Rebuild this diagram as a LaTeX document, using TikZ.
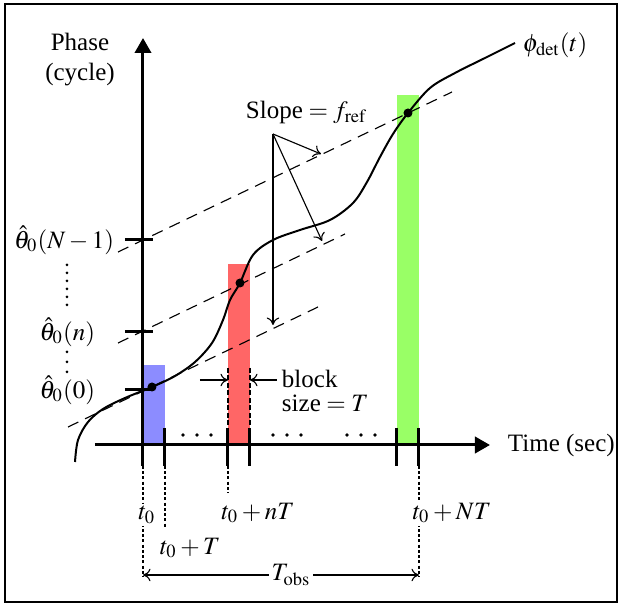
\documentclass[tikz,border=0pt]{standalone}
\usepackage{mathptmx}
\usepackage[no-math]{fontspec}
\setmainfont{Liberation Serif}
\usetikzlibrary{arrows.meta}
\definecolor{blockblue}{RGB}{140,140,255}
\definecolor{blockred}{RGB}{255,102,102}
\definecolor{blockgreen}{RGB}{153,255,102}
\begin{document}
\begin{tikzpicture}[x=0.4pt,y=-0.4pt,every node/.style={font=\fontsize{10}{12}\selectfont,inner sep=1pt},>={To[length=3pt,width=5pt]},
  axis/.style={line width=1.2pt,-{Triangle[length=6pt,width=6.5pt]}},
  axtick/.style={line width=1.2pt},
  slopeline/.style={line width=0.45pt,dash pattern=on 4.6pt off 3pt},
  guide/.style={line width=0.45pt,dash pattern=on 1.2pt off 0.9pt},
  thin arrow/.style={line width=0.45pt,->}]
\useasboundingbox (0,0) rectangle (622,606);
\draw[line width=0.8pt] (5,4) rectangle (617,602);
% blocks
\fill[blockblue] (143,365) rectangle (165,445);
\fill[blockred] (228,264) rectangle (250,445);
\fill[blockgreen] (397,95) rectangle (419,445);
% guides below the time axis
\draw[guide] (143,466) -- (143,577);
\draw[guide] (165,466) -- (165,527);
\draw[guide] (228,466) -- (228,493);
\draw[guide] (419,466) -- (419,577);
% axes
\coordinate (ybot) at (143,466);
\coordinate (ytop) at (143,38);
\coordinate (xleft) at (95,445);
\coordinate (xright) at (490,445);
\draw[axis] (ybot) -- (ytop);
\draw[axis] (xleft) -- (xright);
\foreach \x in {165,228,250,397,419}
  \draw[axtick] (\x,428) -- (\x,466);
\foreach \y in {240,332,390}
  \draw[axtick] (125,\y) -- (153,\y);
% lines of slope f_ref
\draw[slopeline] (118,252) -- (452,92);
\draw[slopeline] (118,343) -- (345,234);
\draw[slopeline] (68,427) -- (318,307);
% detected phase
\draw[line width=0.8pt] plot[smooth,tension=0.55] coordinates {(75,462) (78,440) (88,422) (103,409) (125,398) (152,387) (175,376) (195,362) (212,343) (223,320) (230,300) (240,283) (253,255) (273,240) (300,230) (330,220) (353,203) (367,182) (380,157) (393,134) (408,113) (430,88) (455,73) (485,58) (515,43)};
\fill (152,387) circle (1.8pt);
\fill (240,283) circle (1.8pt);
\fill (408,113) circle (1.8pt);
% block size
\draw[line width=0.8pt,dash pattern=on 2pt off 1pt] (228,368) -- (228,428);
\draw[line width=0.8pt,dash pattern=on 2pt off 1pt] (250,368) -- (250,428);
\coordinate (bsl) at (200,380);
\coordinate (bsr) at (277,380);
\draw[thin arrow] (bsl) -- (228,380);
\draw[thin arrow] (bsr) -- (250,380);
\node[anchor=west,align=left] (bsize) at (279,391) {block\\[-2.6pt]size${}=T$};
% slope pointers
\node[anchor=west] (slope) at (243,112) {Slope${}=f_{\mathrm{ref}}$};
\coordinate (sp) at (273,134);
\draw[thin arrow] (sp) -- (321,154);
\draw[thin arrow] (sp) -- (322,241);
\draw[thin arrow] (sp) -- (273,325);
% dots
\foreach \x in {183,197,211,273,287,301,347,361,375}
  \fill (\x,435) circle (0.75pt);
\foreach \y in {265,273,281,289,297,305}
  \fill (67,\y) circle (0.6pt);
\foreach \y in {352,362,372}
  \fill (67,\y) circle (0.6pt);
% labels
\node[align=center] (phase) at (80,60) {Phase\\(cycle)};
\node[anchor=west] (time) at (505,445) {Time (sec)};
\node[anchor=west] (phi) at (520,45) {$\phi_{\mathrm{det}}(t)$};
\node[anchor=east] (thN) at (117,240) {$\hat{\theta}_0(N-1)$};
\node[anchor=east] (thn) at (98,332) {$\hat{\theta}_0(n)$};
\node[anchor=east] (th0) at (98,390) {$\hat{\theta}_0(0)$};
\node[fill=white] (t0) at (147,515) {$t_0$};
\node[anchor=west] (t0T) at (157,548) {$t_0+T$};
\node (t0nT) at (258,513) {$t_0+nT$};
\node[fill=white] (t0NT) at (452,513) {$t_0+NT$};
\node (tobs) at (291,575) {$T_{\mathrm{obs}}$};
\draw[thin arrow] (tobs) -- (143,575);
\draw[thin arrow] (tobs) -- (419,575);
\end{tikzpicture}
\end{document}
